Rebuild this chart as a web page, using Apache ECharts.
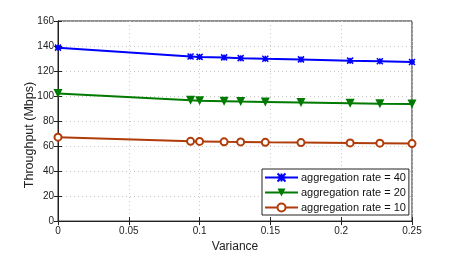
<!DOCTYPE html>
<html><head><meta charset="utf-8">
<script src="https://cdn.jsdelivr.net/npm/echarts@6/dist/echarts.min.js"></script>
<style>html,body{margin:0;padding:0;background:#fff}#c{width:457px;height:258px}</style>
</head><body><div id="c"></div>
<script>
const variance = [0, 0.0936, 0.1, 0.1173, 0.129, 0.1464, 0.1716, 0.2063, 0.2273, 0.25];
const rate40 = [138.7, 131.6, 131.3, 130.9, 130.3, 129.8, 129.3, 128.3, 127.8, 127.2];
const rate20 = [102.0, 96.6, 96.3, 95.9, 95.6, 95.3, 94.9, 94.3, 93.9, 93.6];
const rate10 = [67.1, 63.8, 63.7, 63.4, 63.3, 63.0, 62.8, 62.5, 62.3, 62.0];
const seriesNames = ['aggregation rate = 40', 'aggregation rate = 20', 'aggregation rate = 10'];
const colors = ['#0000ff', '#007a00', '#b03c0a'];
const yTitle = 'Throughput (Mbps)';
const xTitle = 'Variance';

const font = 'Liberation Sans, Arial, sans-serif';
const pair = arr => variance.map((v, i) => [v, arr[i]]);
const xSym = 'path://M0,0L10,10M10,0L0,10M5,0L5,10M0,5L10,5';

const chart = echarts.init(document.getElementById('c'));
const gridLine = {show: true, lineStyle: {color: '#c8c8c8', type: [1, 3], width: 1}};
chart.setOption({
  animation: false,
  grid: {left: 58, right: 45, top: 21, bottom: 32, show: true, borderColor: '#222', borderWidth: 1},
  graphic: [{
    type: 'text', x: 30, y: 135, rotation: Math.PI / 2,
    style: {text: yTitle, font: '12.5px ' + font, fill: '#222', textAlign: 'center', textVerticalAlign: 'middle'}
  }],
  xAxis: [{
    type: 'value', min: 0, max: 0.25, interval: 0.05,
    name: xTitle, nameLocation: 'middle', nameGap: 16,
    nameTextStyle: {fontFamily: font, fontSize: 12, color: '#222'},
    axisLine: {show: true, lineStyle: {color: '#222'}},
    axisTick: {inside: true, length: 4, lineStyle: {color: '#222'}},
    axisLabel: {fontFamily: font, fontSize: 10, color: '#222', margin: 5},
    splitLine: gridLine
  }, {
    type: 'value', min: 0, max: 0.25, interval: 0.05, position: 'top',
    axisLine: {show: true, lineStyle: {color: '#222'}},
    axisTick: {inside: true, length: 4, lineStyle: {color: '#222'}},
    axisLabel: {show: false}, splitLine: {show: false}
  }],
  yAxis: [{
    type: 'value', min: 0, max: 160, interval: 20,
    axisLine: {show: true, lineStyle: {color: '#222'}},
    axisTick: {show: true, inside: true, length: 4, lineStyle: {color: '#222'}},
    axisLabel: {fontFamily: font, fontSize: 10, color: '#222', margin: 4},
    splitLine: gridLine
  }, {
    type: 'value', min: 0, max: 160, interval: 20, position: 'right',
    axisLine: {show: true, lineStyle: {color: '#222'}},
    axisTick: {show: true, inside: true, length: 4, lineStyle: {color: '#222'}},
    axisLabel: {show: false}, splitLine: {show: false}
  }],
  legend: {
    left: 262, top: 169, orient: 'vertical', itemGap: 4, itemWidth: 33, itemHeight: 10,
    backgroundColor: '#fff', borderColor: '#222', borderWidth: 1, borderRadius: 0,
    padding: [3, 3, 2, 2],
    textStyle: {fontFamily: font, fontSize: 11, color: '#111', padding: [0, 0, 0, -2]},
    data: seriesNames
  },
  series: [
    {name: seriesNames[0], type: 'line', data: pair(rate40), color: colors[0],
     symbol: xSym, symbolSize: 6, lineStyle: {width: 2},
     itemStyle: {color: colors[0], borderColor: colors[0], borderWidth: 1.5}},
    {name: seriesNames[1], type: 'line', data: pair(rate20), color: colors[1],
     symbol: 'triangle', symbolRotate: 180, symbolSize: 9, lineStyle: {width: 2},
     itemStyle: {color: colors[1]}},
    {name: seriesNames[2], type: 'line', data: pair(rate10), color: colors[2],
     symbol: 'emptyCircle', symbolSize: 7, lineStyle: {width: 2},
     itemStyle: {color: colors[2], borderWidth: 1.5}}
  ]
});
</script></body></html>
